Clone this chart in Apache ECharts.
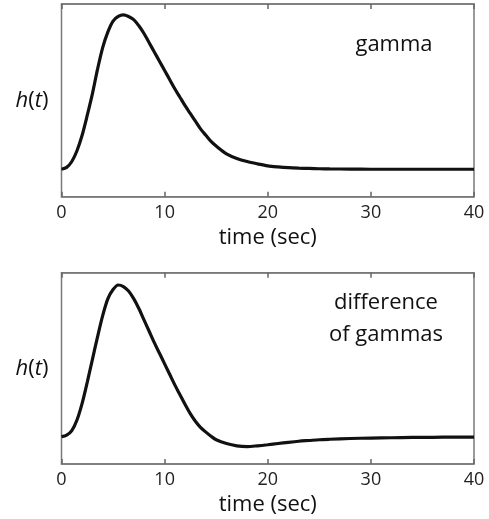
<!DOCTYPE html>
<html>
<head>
<meta charset="utf-8">
<script src="https://cdn.jsdelivr.net/npm/echarts@6/dist/echarts.min.js"></script>
<style>
  html, body { margin: 0; padding: 0; background: #fff; }
  #chart { width: 489px; height: 519px; }
</style>
</head>
<body>
<div id="chart"></div>
<script>
// time samples (sec)
var timeSec = [0, 0.5, 1, 1.5, 2, 2.5, 3, 3.5, 4, 4.5, 5, 5.5, 6, 6.5, 7, 7.5, 8, 8.5, 9, 9.5,
  10, 10.5, 11, 11.5, 12, 12.5, 13, 13.5, 14, 14.5, 15, 16, 17, 18, 19, 20,
  21, 22, 23, 24, 25, 26, 28, 30, 32, 34, 36, 38, 40];
// top panel: gamma response (peak normalised to 1)
var gammaVals = [0, 0.012, 0.05, 0.12, 0.22, 0.35, 0.49, 0.65, 0.79, 0.89, 0.96, 0.99, 1.0, 0.99,
  0.97, 0.93, 0.88, 0.82, 0.76, 0.70, 0.64, 0.58, 0.52, 0.465, 0.41, 0.36, 0.31, 0.26, 0.22, 0.18,
  0.15, 0.10, 0.07, 0.05, 0.035, 0.022, 0.015, 0.010, 0.007, 0.005, 0.003, 0.002, 0.001,
  0, 0, 0, 0, 0, 0];
// bottom panel: difference of gammas (with undershoot)
var dogVals = [0, 0.01, 0.04, 0.11, 0.22, 0.36, 0.51, 0.66, 0.80, 0.91, 0.97, 1.0, 0.99, 0.96,
  0.91, 0.845, 0.77, 0.695, 0.62, 0.55, 0.48, 0.41, 0.34, 0.275, 0.21, 0.15, 0.10, 0.06, 0.03, 0.003,
  -0.02, -0.045, -0.06, -0.065, -0.06, -0.053, -0.045, -0.037, -0.03, -0.025, -0.02,
  -0.017, -0.012, -0.009, -0.007, -0.005, -0.004, -0.003, -0.003];
var xTicks = [0, 10, 20, 30, 40];

function pairs(xs, ys) {
  return xs.map(function (x, i) { return [x, ys[i]]; });
}

var font = '"Open Sans", "Noto Sans", sans-serif';
var boxColor = '#7a7a7a';

var chart = echarts.init(document.getElementById('chart'));

function xAxes(gridIndex) {
  var line = { show: true, onZero: false, lineStyle: { color: boxColor, width: 1.5 } };
  var tick = { show: true, inside: false, length: -5, lineStyle: { color: '#666', width: 1.5 } };
  return [
    {
      type: 'value', gridIndex: gridIndex, position: 'bottom',
      min: xTicks[0], max: xTicks[xTicks.length - 1], interval: 10,
      axisLine: line, axisTick: tick,
      axisLabel: { color: '#222', fontSize: 18, fontFamily: font, margin: 7 },
      splitLine: { show: false },
      name: 'time (sec)', nameLocation: 'middle', nameGap: 30,
      nameTextStyle: { color: '#111', fontSize: 22, fontFamily: font }
    },
    {
      type: 'value', gridIndex: gridIndex, position: 'top',
      min: xTicks[0], max: xTicks[xTicks.length - 1], interval: 10,
      axisLine: line, axisTick: tick,
      axisLabel: { show: false },
      splitLine: { show: false }
    }
  ];
}

function yAxis(gridIndex, lo, hi) {
  return {
    type: 'value', gridIndex: gridIndex, min: lo, max: hi,
    axisLine: { show: false, onZero: false }, axisTick: { show: false },
    axisLabel: { show: false }, splitLine: { show: false },
    name: '{i|h}{n|(}{i|t}{n|)}', nameLocation: 'middle', nameRotate: 0, nameGap: 13,
    nameTextStyle: {
      rich: {
        i: { fontStyle: 'italic', fontSize: 22, fontFamily: font, color: '#111' },
        n: { fontSize: 22, fontFamily: font, color: '#111' }
      }
    }
  };
}

var option = {
  animation: false,
  backgroundColor: '#fff',
  grid: [
    { left: 61.5, right: 15, top: 4, height: 192.7, show: true, borderColor: boxColor, borderWidth: 1.5 },
    { left: 61.5, right: 15, top: 272.7, height: 191.3, show: true, borderColor: boxColor, borderWidth: 1.5 }
  ],
  xAxis: xAxes(0).concat(xAxes(1)),
  yAxis: [yAxis(0, -0.178, 1.071), yAxis(1, -0.18, 1.081)],
  graphic: [
    { type: 'text', x: 394, y: 45, style: { text: 'gamma', fill: '#111',
      font: '22px ' + font, align: 'center', verticalAlign: 'middle' } },
    { type: 'text', x: 386, y: 319, style: { text: 'difference\nof gammas', fill: '#111',
      font: '22px ' + font, align: 'center', verticalAlign: 'middle', lineHeight: 32 } }
  ],
  series: [
    {
      type: 'line', xAxisIndex: 0, yAxisIndex: 0, data: pairs(timeSec, gammaVals),
      smooth: 0.3, showSymbol: false, lineStyle: { color: '#111', width: 3.2 }
    },
    {
      type: 'line', xAxisIndex: 2, yAxisIndex: 1, data: pairs(timeSec, dogVals),
      smooth: 0.3, showSymbol: false, lineStyle: { color: '#111', width: 3.2 }
    }
  ]
};

chart.setOption(option);
</script>
</body>
</html>
